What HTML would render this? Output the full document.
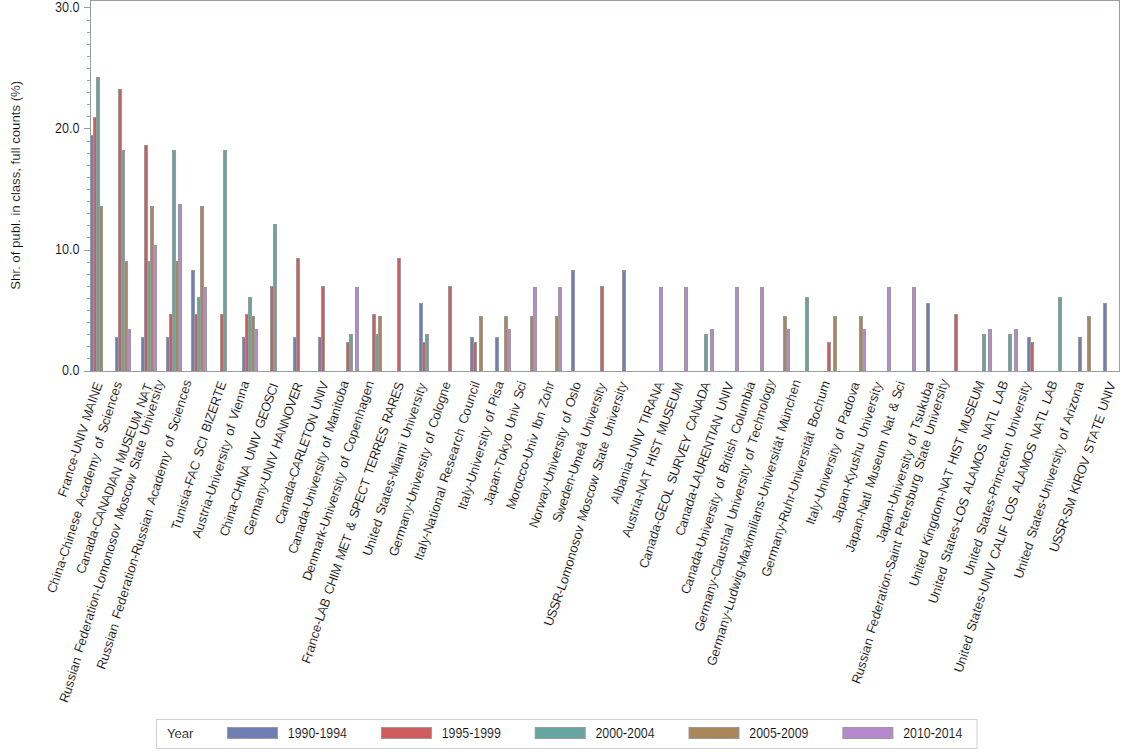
<!DOCTYPE html>
<html><head><meta charset="utf-8"><style>
html,body{margin:0;padding:0;background:#fff;}
body{width:1134px;height:756px;overflow:hidden;}
svg{display:block;font-family:"Liberation Sans",sans-serif;}
text{stroke:#fff;stroke-width:0.15px}
</style></head><body>
<svg width="1134" height="756" viewBox="0 0 1134 756">
<rect width="1134" height="756" fill="#fff"/>
<g stroke="#9a9a9a" stroke-width="1"><rect x="90.5" y="135.5" width="3" height="236" fill="#6F7EB3"/><rect x="93.5" y="117.5" width="3" height="254" fill="#D05B5B"/><rect x="96.5" y="77.5" width="3" height="294" fill="#66A5A0"/><rect x="99.5" y="206.5" width="3" height="165" fill="#A9865B"/><rect x="115.5" y="337.5" width="3" height="34" fill="#6F7EB3"/><rect x="118.5" y="89.5" width="3" height="282" fill="#D05B5B"/><rect x="121.5" y="150.5" width="3" height="221" fill="#66A5A0"/><rect x="124.5" y="261.5" width="3" height="110" fill="#A9865B"/><rect x="127.5" y="329.5" width="3" height="42" fill="#B689CD"/><rect x="141.5" y="337.5" width="3" height="34" fill="#6F7EB3"/><rect x="144.5" y="145.5" width="3" height="226" fill="#D05B5B"/><rect x="147.5" y="261.5" width="3" height="110" fill="#66A5A0"/><rect x="150.5" y="206.5" width="3" height="165" fill="#A9865B"/><rect x="153.5" y="245.5" width="3" height="126" fill="#B689CD"/><rect x="166.5" y="337.5" width="3" height="34" fill="#6F7EB3"/><rect x="169.5" y="314.5" width="3" height="57" fill="#D05B5B"/><rect x="172.5" y="150.5" width="3" height="221" fill="#66A5A0"/><rect x="175.5" y="261.5" width="3" height="110" fill="#A9865B"/><rect x="178.5" y="204.5" width="3" height="167" fill="#B689CD"/><rect x="191.5" y="270.5" width="3" height="101" fill="#6F7EB3"/><rect x="194.5" y="314.5" width="3" height="57" fill="#D05B5B"/><rect x="197.5" y="297.5" width="3" height="74" fill="#66A5A0"/><rect x="200.5" y="206.5" width="3" height="165" fill="#A9865B"/><rect x="203.5" y="287.5" width="3" height="84" fill="#B689CD"/><rect x="220.5" y="314.5" width="3" height="57" fill="#D05B5B"/><rect x="223.5" y="150.5" width="3" height="221" fill="#66A5A0"/><rect x="242.5" y="337.5" width="3" height="34" fill="#6F7EB3"/><rect x="245.5" y="314.5" width="3" height="57" fill="#D05B5B"/><rect x="248.5" y="297.5" width="3" height="74" fill="#66A5A0"/><rect x="251.5" y="316.5" width="3" height="55" fill="#A9865B"/><rect x="254.5" y="329.5" width="3" height="42" fill="#B689CD"/><rect x="270.5" y="286.5" width="3" height="85" fill="#D05B5B"/><rect x="273.5" y="224.5" width="3" height="147" fill="#66A5A0"/><rect x="293.5" y="337.5" width="3" height="34" fill="#6F7EB3"/><rect x="296.5" y="258.5" width="3" height="113" fill="#D05B5B"/><rect x="318.5" y="337.5" width="3" height="34" fill="#6F7EB3"/><rect x="321.5" y="286.5" width="3" height="85" fill="#D05B5B"/><rect x="346.5" y="342.5" width="3" height="29" fill="#D05B5B"/><rect x="349.5" y="334.5" width="3" height="37" fill="#66A5A0"/><rect x="355.5" y="287.5" width="3" height="84" fill="#B689CD"/><rect x="372.5" y="314.5" width="3" height="57" fill="#D05B5B"/><rect x="375.5" y="334.5" width="3" height="37" fill="#66A5A0"/><rect x="378.5" y="316.5" width="3" height="55" fill="#A9865B"/><rect x="397.5" y="258.5" width="3" height="113" fill="#D05B5B"/><rect x="419.5" y="303.5" width="3" height="68" fill="#6F7EB3"/><rect x="422.5" y="342.5" width="3" height="29" fill="#D05B5B"/><rect x="425.5" y="334.5" width="3" height="37" fill="#66A5A0"/><rect x="448.5" y="286.5" width="3" height="85" fill="#D05B5B"/><rect x="470.5" y="337.5" width="3" height="34" fill="#6F7EB3"/><rect x="473.5" y="342.5" width="3" height="29" fill="#D05B5B"/><rect x="479.5" y="316.5" width="3" height="55" fill="#A9865B"/><rect x="495.5" y="337.5" width="3" height="34" fill="#6F7EB3"/><rect x="504.5" y="316.5" width="3" height="55" fill="#A9865B"/><rect x="507.5" y="329.5" width="3" height="42" fill="#B689CD"/><rect x="530.5" y="316.5" width="3" height="55" fill="#A9865B"/><rect x="533.5" y="287.5" width="3" height="84" fill="#B689CD"/><rect x="555.5" y="316.5" width="3" height="55" fill="#A9865B"/><rect x="558.5" y="287.5" width="3" height="84" fill="#B689CD"/><rect x="571.5" y="270.5" width="3" height="101" fill="#6F7EB3"/><rect x="600.5" y="286.5" width="3" height="85" fill="#D05B5B"/><rect x="622.5" y="270.5" width="3" height="101" fill="#6F7EB3"/><rect x="659.5" y="287.5" width="3" height="84" fill="#B689CD"/><rect x="684.5" y="287.5" width="3" height="84" fill="#B689CD"/><rect x="704.5" y="334.5" width="3" height="37" fill="#66A5A0"/><rect x="710.5" y="329.5" width="3" height="42" fill="#B689CD"/><rect x="735.5" y="287.5" width="3" height="84" fill="#B689CD"/><rect x="760.5" y="287.5" width="3" height="84" fill="#B689CD"/><rect x="783.5" y="316.5" width="3" height="55" fill="#A9865B"/><rect x="786.5" y="329.5" width="3" height="42" fill="#B689CD"/><rect x="805.5" y="297.5" width="3" height="74" fill="#66A5A0"/><rect x="827.5" y="342.5" width="3" height="29" fill="#D05B5B"/><rect x="833.5" y="316.5" width="3" height="55" fill="#A9865B"/><rect x="859.5" y="316.5" width="3" height="55" fill="#A9865B"/><rect x="862.5" y="329.5" width="3" height="42" fill="#B689CD"/><rect x="887.5" y="287.5" width="3" height="84" fill="#B689CD"/><rect x="912.5" y="287.5" width="3" height="84" fill="#B689CD"/><rect x="926.5" y="303.5" width="3" height="68" fill="#6F7EB3"/><rect x="954.5" y="314.5" width="3" height="57" fill="#D05B5B"/><rect x="982.5" y="334.5" width="3" height="37" fill="#66A5A0"/><rect x="988.5" y="329.5" width="3" height="42" fill="#B689CD"/><rect x="1008.5" y="334.5" width="3" height="37" fill="#66A5A0"/><rect x="1014.5" y="329.5" width="3" height="42" fill="#B689CD"/><rect x="1027.5" y="337.5" width="3" height="34" fill="#6F7EB3"/><rect x="1030.5" y="342.5" width="3" height="29" fill="#D05B5B"/><rect x="1058.5" y="297.5" width="3" height="74" fill="#66A5A0"/><rect x="1078.5" y="337.5" width="3" height="34" fill="#6F7EB3"/><rect x="1087.5" y="316.5" width="3" height="55" fill="#A9865B"/><rect x="1103.5" y="303.5" width="3" height="68" fill="#6F7EB3"/></g>
<rect x="90.5" y="0.5" width="1029" height="371" fill="none" stroke="#989EA1"/>
<g stroke="#989EA1" stroke-width="1"><line x1="84" y1="7.5" x2="90" y2="7.5"/><line x1="87" y1="20.5" x2="90" y2="20.5"/><line x1="87" y1="32.5" x2="90" y2="32.5"/><line x1="87" y1="44.5" x2="90" y2="44.5"/><line x1="87" y1="56.5" x2="90" y2="56.5"/><line x1="87" y1="68.5" x2="90" y2="68.5"/><line x1="87" y1="80.5" x2="90" y2="80.5"/><line x1="87" y1="92.5" x2="90" y2="92.5"/><line x1="87" y1="104.5" x2="90" y2="104.5"/><line x1="87" y1="116.5" x2="90" y2="116.5"/><line x1="84" y1="128.5" x2="90" y2="128.5"/><line x1="87" y1="141.5" x2="90" y2="141.5"/><line x1="87" y1="153.5" x2="90" y2="153.5"/><line x1="87" y1="165.5" x2="90" y2="165.5"/><line x1="87" y1="177.5" x2="90" y2="177.5"/><line x1="87" y1="189.5" x2="90" y2="189.5"/><line x1="87" y1="201.5" x2="90" y2="201.5"/><line x1="87" y1="213.5" x2="90" y2="213.5"/><line x1="87" y1="225.5" x2="90" y2="225.5"/><line x1="87" y1="237.5" x2="90" y2="237.5"/><line x1="84" y1="250.5" x2="90" y2="250.5"/><line x1="87" y1="262.5" x2="90" y2="262.5"/><line x1="87" y1="274.5" x2="90" y2="274.5"/><line x1="87" y1="286.5" x2="90" y2="286.5"/><line x1="87" y1="298.5" x2="90" y2="298.5"/><line x1="87" y1="310.5" x2="90" y2="310.5"/><line x1="87" y1="322.5" x2="90" y2="322.5"/><line x1="87" y1="334.5" x2="90" y2="334.5"/><line x1="87" y1="346.5" x2="90" y2="346.5"/><line x1="87" y1="358.5" x2="90" y2="358.5"/><line x1="84" y1="371.5" x2="90" y2="371.5"/></g>
<g font-size="12px" fill="#000"><text transform="translate(79.6,7.1) scale(1.05,1.18)" dy="0.35em" text-anchor="end">30.0</text><text transform="translate(79.6,128.1) scale(1.05,1.18)" dy="0.35em" text-anchor="end">20.0</text><text transform="translate(79.6,249.0) scale(1.05,1.18)" dy="0.35em" text-anchor="end">10.0</text><text transform="translate(79.6,370.2) scale(1.05,1.18)" dy="0.35em" text-anchor="end">0.0</text></g>
<text transform="translate(19.5,185.3) scale(1.07,1.1) rotate(-90)" text-anchor="middle" font-size="12px" fill="#000">Shr. of publ. in class, full counts (%)</text>
<rect x="156.5" y="719.5" width="820.5" height="29" fill="none" stroke="#d0d0d0"/>
<text transform="translate(167,737.9)" font-size="13px" fill="#000">Year</text>
<g font-size="12px" fill="#000"><rect x="227.5" y="727.5" width="50" height="11" fill="#6F7EB3" stroke="#9a9a9a"/><text transform="translate(287.8,738.0) scale(1.03,1.18)">1990-1994</text><rect x="381.4" y="727.5" width="50" height="11" fill="#D05B5B" stroke="#9a9a9a"/><text transform="translate(441.7,738.0) scale(1.03,1.18)">1995-1999</text><rect x="535.2" y="727.5" width="50" height="11" fill="#66A5A0" stroke="#9a9a9a"/><text transform="translate(595.5,738.0) scale(1.03,1.18)">2000-2004</text><rect x="689.0" y="727.5" width="50" height="11" fill="#A9865B" stroke="#9a9a9a"/><text transform="translate(749.3,738.0) scale(1.03,1.18)">2005-2009</text><rect x="842.9" y="727.5" width="50" height="11" fill="#B689CD" stroke="#9a9a9a"/><text transform="translate(903.2,738.0) scale(1.03,1.18)">2010-2014</text></g>
<g id="xl" font-size="13.0px" fill="#000"><text x="65.85 68.33 69.57 71.63 73.68 75.54 77.60 78.90 81.84 84.78 85.91 88.62 89.69 93.08 95.79 96.92 99.86" y="498.05 490.87 486.59 479.45 472.31 465.88 458.74 454.98 446.50 438.01 434.75 426.92 421.69 411.91 404.07 400.81 392.33" rotate="-69.50">France-UNIV MAINE</text><text x="54.94 58.09 60.31 61.20 63.42 65.64 67.04 70.19 72.41 73.30 75.52 77.74 79.74 81.96 83.11 86.01 88.01 90.23 92.45 94.68 98.00 100.00 101.15 103.37 104.48 105.63 108.54 110.53 111.42 113.64 115.86 117.86 120.08" y="593.99 585.62 578.56 575.74 568.68 561.63 557.92 549.54 542.49 539.67 532.61 525.55 519.20 512.14 506.96 499.23 492.88 485.82 478.76 471.70 461.13 454.78 449.60 442.54 439.02 433.83 426.10 419.75 416.93 409.87 402.82 396.47 389.41" rotate="-69.50">China-Chinese Academy of Sciences</text><text x="84.01 87.17 89.41 91.64 93.87 96.11 98.34 99.74 102.91 105.83 108.99 111.92 115.08 116.30 119.22 122.38 123.53 127.18 130.35 133.27 136.19 139.35 143.00 144.16 147.32 150.24" y="574.67 566.45 559.51 552.57 545.63 538.69 531.76 528.12 519.90 512.31 504.10 496.51 488.29 485.13 477.54 469.32 464.20 454.72 446.50 438.91 431.32 423.11 413.63 408.50 400.29 392.70" rotate="-69.50">Canada-CANADIAN MUSEUM NAT</text><text x="67.20 70.17 72.25 74.12 75.99 76.82 78.90 80.98 82.05 84.56 86.64 88.72 90.80 92.04 94.12 95.16 95.99 98.07 100.15 101.47 103.75 105.83 108.95 111.03 113.11 115.19 117.06 119.13 121.00 122.08 125.50 127.58 129.45 131.32 133.40 136.10 137.18 139.92 140.95 143.03 144.07 146.15 147.23 150.19 152.27 153.10 154.97 157.05 158.30 160.17 161.00 162.04" y="703.46 695.15 688.15 681.84 675.54 672.74 665.74 658.73 653.57 646.54 639.53 632.52 625.51 621.32 614.31 610.81 608.01 601.00 593.99 590.31 583.91 576.91 566.41 559.40 552.39 545.38 539.08 532.07 525.77 520.61 511.03 504.02 497.72 491.42 484.41 475.31 470.15 462.48 458.98 451.97 448.47 441.46 436.30 427.99 420.98 418.18 411.88 404.87 400.68 394.38 391.58 388.07" rotate="-69.50">Russian Federation-Lomonosov Moscow State University</text><text x="104.56 107.57 109.68 111.58 113.48 114.32 116.44 118.55 119.64 122.19 124.30 126.41 128.52 129.79 131.90 132.95 133.80 135.91 138.02 139.36 142.36 144.47 146.37 148.27 149.12 151.23 153.34 154.43 157.21 159.11 161.22 163.33 165.45 168.61 170.51 171.60 173.71 174.77 175.86 178.64 180.54 181.38 183.49 185.60 187.50 189.62" y="670.26 661.86 654.78 648.42 642.05 639.22 632.14 625.06 619.86 612.76 605.67 598.59 591.51 587.27 580.19 576.65 573.82 566.74 559.66 555.94 547.54 540.46 534.09 527.72 524.89 517.81 510.73 505.54 497.78 491.41 484.33 477.25 470.17 459.56 453.19 448.00 440.92 437.38 432.19 424.43 418.06 415.23 408.15 401.07 394.70 387.62" rotate="-69.50">Russian Federation-Russian Academy of Sciences</text><text x="179.20 181.65 183.68 185.71 186.52 188.34 189.15 191.18 192.46 194.91 197.58 200.48 201.53 204.20 207.10 208.21 209.26 211.94 213.05 215.50 218.18 221.07 223.52" y="531.10 523.92 516.78 509.63 506.78 500.35 497.49 490.35 486.59 479.41 471.57 463.08 457.86 450.02 441.53 438.27 433.04 425.20 421.94 414.76 406.92 398.43 391.25" rotate="-69.50">Tunisia-FAC SCI BIZERTE</text><text x="200.01 202.86 205.04 207.00 208.08 209.39 210.26 212.43 213.81 216.90 219.07 219.94 221.90 224.08 225.38 227.34 228.21 229.30 231.25 232.38 234.55 235.64 236.77 239.62 240.49 242.67 244.85 247.02" y="538.83 531.14 524.11 517.79 514.28 510.08 507.27 500.24 496.55 488.22 481.19 478.39 472.07 465.04 460.84 454.52 451.71 448.20 441.88 436.72 429.69 426.18 421.01 413.32 410.51 403.48 396.46 389.43" rotate="-69.50">Austria-University of Vienna</text><text x="227.47 230.38 232.41 233.23 235.26 237.29 238.58 241.49 244.39 245.51 248.42 251.10 252.15 255.06 257.96 259.08 261.77 262.82 265.95 268.63 271.76 274.45 277.35" y="537.31 529.13 522.22 519.46 512.54 505.63 502.01 493.83 485.65 482.50 474.32 466.76 461.65 453.46 445.28 442.13 434.58 429.47 420.65 413.10 404.28 396.73 388.54" rotate="-69.50">China-CHINA UNIV GEOSCI</text><text x="251.43 254.65 256.74 257.99 261.13 263.22 265.31 267.19 268.52 271.50 274.48 275.63 278.38 279.47 282.45 285.20 288.18 291.17 294.38 297.13 299.89" y="536.60 527.69 520.71 516.53 506.07 499.08 492.10 485.82 482.16 473.88 465.61 462.43 454.78 449.64 441.36 433.72 425.45 417.17 408.26 400.62 392.98" rotate="-69.50">Germany-UNIV HANNOVER</text><text x="283.02 285.82 287.78 289.74 291.69 293.65 295.60 296.85 299.65 302.24 305.04 307.20 309.79 312.16 315.18 317.99 319.00 321.81 324.61 325.69" y="525.14 516.89 509.92 502.96 495.99 489.03 482.06 478.41 470.16 462.54 454.29 447.94 440.32 433.34 424.45 416.20 411.06 402.81 394.56 391.39" rotate="-69.50">Canada-CARLETON UNIV</text><text x="296.02 299.00 301.09 303.18 305.27 307.36 309.45 310.77 313.75 315.84 316.68 318.56 320.65 321.90 323.78 324.61 325.66 327.54 328.62 330.71 331.76 332.84 336.27 338.36 340.46 341.29 342.34 344.43 346.52" y="554.77 546.51 539.54 532.57 525.59 518.62 511.65 507.99 499.74 492.76 489.98 483.71 476.74 472.57 466.30 463.51 460.03 453.76 448.62 441.65 438.17 433.03 423.50 416.53 409.56 406.77 403.29 396.32 389.35" rotate="-69.50">Canada-University of Manitoba</text><text x="310.15 313.28 315.48 317.68 320.97 323.17 324.49 326.47 327.86 330.98 333.18 334.06 336.03 338.23 339.55 341.53 342.41 343.51 345.49 346.62 348.82 349.92 351.06 354.18 356.38 358.58 360.78 362.98 365.18 367.38 369.59 371.79" y="581.61 573.37 566.42 559.47 549.05 542.10 537.93 531.68 528.04 519.80 512.85 510.07 503.82 496.87 492.70 486.45 483.67 480.20 473.95 468.82 461.87 458.39 453.26 445.03 438.07 431.12 424.17 417.21 410.26 403.31 396.35 389.40" rotate="-69.50">Denmark-University of Copenhagen</text><text x="309.45 311.99 313.25 315.35 317.46 319.35 321.46 322.79 325.09 327.86 330.63 331.72 334.72 337.71 338.86 342.32 343.41 346.87 349.64 352.17 353.26 355.92 357.01 359.78 362.55 365.32 368.31 370.85 371.94 374.47 377.24 380.24 383.24 386.00 388.77 389.86 392.86 395.63 398.62 401.39" y="664.45 657.44 653.25 646.26 639.26 632.97 625.98 622.31 615.92 608.27 600.61 595.46 587.17 578.88 575.69 566.13 560.98 551.42 543.77 536.75 531.60 524.25 519.10 511.45 503.79 496.13 487.85 480.83 475.68 468.67 461.02 452.73 444.44 436.78 429.13 423.98 415.69 408.03 399.74 392.09" rotate="-69.50">France-LAB CHIM MET &amp; SPECT TERRES RARES</text><text x="370.63 373.77 375.98 376.87 377.97 380.19 382.40 383.55 386.45 387.55 389.77 390.87 393.09 395.08 396.47 400.10 400.98 403.20 406.51 407.40 408.54 411.68 413.90 414.78 416.77 418.99 420.31 422.30 423.19 424.29" y="556.70 548.39 541.37 538.57 535.07 528.06 521.04 515.88 508.20 504.70 497.69 494.18 487.17 480.86 477.18 467.59 464.79 457.78 447.27 444.47 439.31 431.00 423.98 421.18 414.88 407.86 403.66 397.36 394.55 391.05" rotate="-69.50">United States-Miami University</text><text x="396.71 399.94 402.04 403.30 406.46 408.56 410.67 412.56 413.90 416.89 419.00 419.84 421.74 423.84 425.10 427.00 427.84 428.89 430.78 431.87 433.98 435.03 436.12 439.12 441.23 442.07 444.18 446.28 448.39" y="557.32 548.49 541.57 537.43 527.06 520.13 513.21 506.99 503.36 495.16 488.24 485.47 479.25 472.33 468.18 461.96 459.19 455.73 449.51 444.39 437.47 434.01 428.90 420.70 413.78 411.01 404.09 397.17 390.24" rotate="-69.50">Germany-University of Cologne</text><text x="421.95 423.18 424.31 426.57 427.47 429.51 430.93 434.14 436.40 437.53 438.43 440.70 442.96 445.22 446.13 447.30 450.50 452.76 454.80 457.06 459.32 460.68 462.71 464.97 466.14 469.34 471.61 473.87 476.13 478.17 479.07" y="561.22 558.00 554.47 547.40 544.58 538.23 534.52 526.14 519.07 515.54 512.72 505.65 498.59 491.52 488.70 483.51 475.13 468.07 461.72 454.65 447.58 443.35 437.00 429.94 424.75 416.37 409.30 402.24 395.17 388.82 386.00" rotate="-69.50">Italy-National Research Council</text><text x="465.70 466.85 467.89 469.98 470.82 472.69 474.01 476.99 479.08 479.91 481.79 483.88 485.13 487.01 487.84 488.89 490.77 491.85 493.94 494.98 496.06 498.81 499.64 501.52" y="510.75 507.49 503.92 496.77 493.91 487.49 483.73 475.24 468.09 465.24 458.81 451.66 447.38 440.96 438.10 434.53 428.11 422.88 415.73 412.16 406.93 399.09 396.24 389.81" rotate="-69.50">Italy-University of Pisa</text><text x="491.58 493.50 495.42 497.35 499.27 501.20 502.42 504.76 506.68 508.41 510.14 512.07 513.07 515.83 517.75 518.52 520.25 521.25 523.80 525.53" y="505.94 500.17 493.14 486.12 479.09 472.06 468.37 461.32 454.30 447.98 441.66 434.63 429.46 421.13 414.11 411.30 404.98 399.81 392.12 385.80" rotate="-69.50">Japan-Tokyo Univ Sci</text><text x="514.01 517.54 519.69 520.98 523.13 525.06 527.00 529.15 530.51 533.56 535.72 536.57 538.51 539.62 540.80 542.95 545.10 546.21 548.80 550.95 553.10" y="510.23 500.74 493.80 489.64 482.69 476.45 470.21 463.26 459.62 451.40 444.45 441.68 435.44 430.31 427.14 420.20 413.26 408.13 401.17 394.23 387.28" rotate="-69.50">Morocco-Univ Ibn Zohr</text><text x="537.05 539.99 542.05 543.28 545.95 548.01 549.86 551.17 554.10 556.16 556.98 558.84 560.89 562.13 563.98 564.80 565.83 567.68 568.75 570.81 571.84 572.90 576.07 577.92 578.74" y="528.69 520.43 513.46 509.29 500.24 493.27 487.01 483.35 475.10 468.13 465.34 459.08 452.11 447.94 441.67 438.89 435.41 429.14 424.00 417.03 413.55 408.41 399.52 393.26 390.47" rotate="-69.50">Norway-University of Oslo</text><text x="560.34 563.22 566.08 568.28 570.49 572.69 574.89 576.28 579.40 582.69 584.90 587.10 588.24 591.36 593.56 594.44 596.42 598.62 599.94 601.92 602.79 603.89" y="523.06 515.55 506.62 499.75 492.87 486.00 479.12 475.53 467.39 457.10 450.22 443.35 438.25 430.12 423.25 420.50 414.32 407.44 403.33 397.15 394.40 390.96" rotate="-69.50">Sweden-Umeå University</text><text x="551.82 554.78 557.51 560.24 563.20 564.51 566.79 568.86 571.97 574.04 576.12 578.19 580.06 582.13 584.00 585.07 588.49 590.56 592.43 594.29 596.37 599.06 600.13 602.87 603.90 605.98 607.01 609.09 610.16 613.12 615.19 616.02 617.89 619.96 621.21 623.07 623.90 624.94" y="627.04 618.76 611.10 603.45 595.16 591.49 585.11 578.12 567.64 560.65 553.65 546.66 540.37 533.38 527.09 521.94 512.38 505.39 499.10 492.81 485.82 476.74 471.58 463.93 460.44 453.44 449.95 442.95 437.80 429.52 422.52 419.73 413.44 406.45 402.26 395.97 393.18 389.68" rotate="-69.50">USSR-Lomonosov Moscow State University</text><text x="618.34 621.48 622.45 624.86 627.27 629.69 630.65 633.07 634.58 637.98 641.38 642.69 645.83 647.07 649.95 651.26 654.66 657.79 661.19" y="504.39 496.67 493.85 486.80 479.75 472.69 469.88 462.82 459.12 450.76 442.39 439.17 431.45 426.27 419.20 415.98 407.61 399.89 391.53" rotate="-69.50">Albania-UNIV TIRANA</text><text x="629.85 632.72 634.92 636.89 637.99 639.30 640.18 642.38 643.76 646.88 649.75 652.39 653.52 656.64 657.84 660.71 663.35 664.48 668.08 671.19 674.07 676.95 680.06" y="538.07 530.36 523.32 516.99 513.47 509.26 506.44 499.40 495.71 487.36 479.65 472.59 467.42 459.07 455.86 448.15 441.09 435.91 426.28 417.94 410.23 402.52 394.17" rotate="-69.50">Austria-NAT HIST MUSEUM</text><text x="647.01 650.04 652.17 654.30 656.43 658.56 660.69 662.04 665.30 668.10 671.36 673.70 674.80 677.60 680.63 683.66 686.46 689.26 692.06 693.16 696.19 698.99 702.02 704.82 707.85" y="569.25 560.91 553.88 546.84 539.81 532.77 525.73 522.04 513.06 505.35 496.37 489.94 484.77 477.07 468.72 460.38 452.68 444.97 437.27 432.10 423.76 416.05 407.71 400.00 391.66" rotate="-69.50">Canada-GEOL SURVEY CANADA</text><text x="683.15 686.05 688.08 690.11 692.14 694.17 696.20 697.48 699.72 702.40 705.30 708.20 710.88 713.78 716.23 717.34 720.02 722.92 723.98 726.88 729.78 730.89" y="536.81 528.52 521.52 514.52 507.52 500.52 493.52 489.85 483.46 475.80 467.50 459.21 451.55 443.25 436.24 433.05 425.39 417.09 411.94 403.64 395.35 392.16" rotate="-69.50">Canada-LAURENTIAN UNIV</text><text x="688.71 691.76 693.91 696.06 698.21 700.36 702.50 703.86 706.91 709.06 709.92 711.85 714.00 715.29 717.22 718.08 719.15 721.08 722.19 724.34 725.41 726.53 729.35 730.63 731.49 732.56 733.42 735.35 737.50 738.61 741.67 743.82 744.67 746.82 750.04 752.19 753.05" y="595.07 586.87 579.94 573.01 566.08 559.15 552.22 548.59 540.39 533.46 530.69 524.46 517.53 513.38 507.15 504.38 500.92 494.69 489.57 482.64 479.18 474.06 466.48 462.33 459.56 456.10 453.33 447.10 440.17 435.05 426.85 419.92 417.15 410.22 399.84 392.91 390.14" rotate="-69.50">Canada-University of British Columbia</text><text x="702.15 705.22 707.21 708.41 711.39 713.38 715.37 717.16 718.43 721.28 722.07 724.06 726.06 727.85 728.84 730.83 732.82 733.62 734.65 737.50 739.49 740.29 742.08 744.07 745.27 747.06 747.85 748.85 750.64 751.67 753.66 754.66 755.69 758.10 760.09 761.88 763.87 765.87 767.86 768.65 770.64 772.64" y="632.45 623.50 616.48 612.29 601.78 594.77 587.75 581.45 577.77 569.46 566.65 559.64 552.63 546.32 542.82 535.81 528.79 525.99 520.83 512.52 505.50 502.70 496.40 489.38 485.19 478.88 476.08 472.58 466.27 461.11 454.10 450.59 445.43 438.40 431.39 425.08 418.07 411.06 404.04 401.24 394.23 387.21" rotate="-69.50">Germany-Clausthal University of Technology</text><text x="714.81 717.98 720.05 721.29 724.39 726.45 728.52 730.38 731.69 733.96 736.03 738.10 740.78 741.61 743.67 744.98 748.38 750.45 752.31 753.14 756.23 757.06 757.89 758.71 760.78 762.85 764.71 766.01 768.96 771.03 771.86 773.72 775.78 777.02 778.88 779.71 780.74 782.81 783.84 784.91 788.31 790.38 792.45 794.31 796.37 798.44" y="666.72 657.61 650.49 646.23 635.56 628.44 621.32 614.91 611.17 604.66 597.54 590.41 581.17 578.32 571.20 567.45 557.70 550.58 544.18 541.33 530.67 527.82 524.98 522.13 515.01 507.89 501.49 497.74 489.29 482.16 479.32 472.92 465.79 461.53 455.13 452.28 448.73 441.60 438.05 432.83 423.08 415.96 408.84 402.43 395.31 388.19" rotate="-69.50">Germany-Ludwig-Maximilians-Universität München</text><text x="769.23 772.46 774.57 775.84 778.99 781.10 783.21 785.11 786.44 789.45 791.56 793.66 794.93 796.26 799.26 801.37 802.22 804.11 806.22 807.48 809.38 810.22 811.28 813.39 814.44 815.53 818.31 820.42 822.31 824.42 826.53" y="577.82 568.81 561.75 557.53 546.96 539.90 532.84 526.50 522.79 514.42 507.36 500.31 496.08 492.37 484.00 476.95 474.13 467.78 460.73 456.50 450.16 447.34 443.81 436.75 433.23 428.05 420.32 413.26 406.91 399.86 392.80" rotate="-69.50">Germany-Ruhr-Universität Bochum</text><text x="813.84 815.04 816.15 818.35 819.24 821.22 822.61 825.74 827.95 828.83 830.82 833.02 834.35 836.33 837.21 838.32 840.30 841.44 843.65 844.75 845.89 848.78 850.99 853.20 855.41 857.39" y="525.55 522.40 518.95 512.04 509.28 503.07 499.45 491.27 484.36 481.60 475.39 468.48 464.34 458.13 455.36 451.91 445.70 440.59 433.68 430.23 425.12 417.56 410.65 403.74 396.83 390.62" rotate="-69.50">Italy-University of Padova</text><text x="839.83 841.89 843.98 846.06 848.15 850.23 851.55 854.29 856.17 858.25 860.13 862.21 864.30 865.38 868.35 870.44 871.27 873.14 875.23 876.48 878.35 879.18 880.23" y="523.43 517.62 510.54 503.47 496.40 489.32 485.61 477.86 471.50 464.43 458.07 451.00 443.92 438.73 430.34 423.27 420.44 414.08 407.01 402.78 396.42 393.59 390.06" rotate="-69.50">Japan-Kyushu University</text><text x="853.27 855.33 857.41 859.50 861.58 863.67 864.98 867.95 870.04 871.08 871.91 872.99 876.42 878.50 880.37 882.46 884.54 887.66 888.74 891.71 893.80 894.84 895.92 898.56 899.64 902.38 904.25" y="553.02 547.28 540.27 533.27 526.26 519.26 515.58 507.28 500.28 496.78 493.98 488.82 479.25 472.24 465.94 458.94 451.94 441.44 436.29 427.99 420.98 417.48 412.33 404.96 399.81 392.14 385.84" rotate="-69.50">Japan-Natl Museum Nat &amp; Sci</text><text x="883.79 885.91 888.06 890.21 892.36 894.51 895.87 898.92 901.07 901.93 903.86 906.02 907.30 909.24 910.10 911.17 913.10 914.22 916.37 917.44 918.55 921.14 923.07 925.22 927.16 929.31 931.46" y="543.08 537.35 530.37 523.38 516.40 509.42 505.75 497.48 490.50 487.71 481.43 474.44 470.26 463.98 461.20 457.71 451.43 446.28 439.30 435.81 430.66 423.67 417.39 410.40 404.13 397.14 390.16" rotate="-69.50">Japan-University of Tsukuba</text><text x="859.60 862.51 864.55 866.38 868.22 869.03 871.07 873.11 874.17 876.63 878.67 880.71 882.75 883.97 886.01 887.03 887.84 889.88 891.92 893.21 895.90 897.94 898.75 900.79 901.81 902.87 905.56 907.60 908.62 910.65 911.88 913.71 915.75 917.79 919.01 921.05 922.10 924.79 925.81 927.85 928.87 930.91 931.97 934.88 936.92 937.73 939.56 941.60 942.82 944.66 945.47 946.49" y="684.67 676.27 669.19 662.82 656.46 653.63 646.55 639.47 634.28 627.18 620.10 613.02 605.94 601.70 594.62 591.08 588.26 581.18 574.10 570.38 562.62 555.54 552.72 545.64 542.10 536.91 529.15 522.07 518.53 511.46 507.22 500.85 493.77 486.69 482.46 475.38 470.18 462.43 458.89 451.81 448.27 441.19 436.00 427.60 420.52 417.70 411.33 404.25 400.01 393.65 390.82 387.29" rotate="-69.50">Russian Federation-Saint Petersburg State University</text><text x="917.04 920.05 922.17 923.01 924.07 926.19 928.30 929.40 932.18 933.03 935.14 937.26 939.37 941.49 944.66 946.00 949.01 951.79 954.34 955.43 958.45 959.60 962.39 964.93 966.03 969.50 972.51 975.30 978.08 981.09" y="587.35 579.05 572.05 569.26 565.76 558.76 551.76 546.61 538.95 536.15 529.15 522.15 515.15 508.16 497.67 494.00 485.71 478.04 471.03 465.87 457.58 454.39 446.73 439.71 434.56 424.99 416.70 409.04 401.37 393.08" rotate="-69.50">United Kingdom-NAT HIST MUSEUM</text><text x="936.25 939.25 941.36 942.20 943.25 945.36 947.47 948.56 951.33 952.39 954.49 955.55 957.66 959.55 960.88 963.20 966.43 969.20 970.29 973.07 975.38 978.15 981.61 984.85 987.62 988.71 991.71 994.48 997.02 999.33 1000.43 1002.74 1005.51" y="604.55 596.06 588.91 586.05 582.48 575.33 568.18 562.95 555.11 551.53 544.38 540.81 533.66 527.23 523.47 516.93 507.78 499.94 494.71 486.87 480.33 472.48 462.69 453.54 445.70 440.47 431.98 424.14 416.95 410.41 405.18 398.64 390.80" rotate="-69.50">United States-LOS ALAMOS NATL LAB</text><text x="971.62 974.62 976.73 977.57 978.62 980.73 982.84 983.93 986.70 987.76 989.86 990.92 993.03 994.92 996.25 999.03 1000.29 1001.13 1003.24 1005.13 1007.24 1008.30 1010.40 1012.51 1013.60 1016.60 1018.71 1019.56 1021.45 1023.56 1024.82 1026.72 1027.56 1028.61" y="576.82 568.43 561.35 558.53 554.99 547.92 540.84 535.65 527.90 524.37 517.29 513.76 506.69 500.33 496.61 488.86 484.62 481.80 474.72 468.36 461.29 457.76 450.68 443.61 438.42 430.03 422.95 420.13 413.77 406.69 402.46 396.10 393.27 389.74" rotate="-69.50">United States-Princeton University</text><text x="961.88 964.87 966.97 967.81 968.86 970.96 973.06 974.15 976.91 977.96 980.06 981.11 983.21 985.10 986.43 989.42 992.41 993.56 996.32 997.41 1000.40 1003.16 1005.47 1006.62 1009.15 1010.24 1012.54 1015.76 1018.52 1019.61 1022.38 1024.68 1027.44 1030.89 1034.11 1036.88 1037.96 1040.96 1043.72 1046.25 1048.55 1049.64 1051.94 1054.71" y="673.42 665.02 657.94 655.11 651.57 644.50 637.42 632.22 624.47 620.93 613.85 610.31 603.24 596.87 593.15 584.75 576.35 573.12 565.37 560.17 551.77 544.02 537.55 534.32 527.22 522.02 515.55 506.51 498.75 493.56 485.80 479.33 471.58 461.89 452.84 445.09 439.89 431.50 423.74 416.63 410.17 404.97 398.51 390.75" rotate="-69.50">United States-UNIV CALIF LOS ALAMOS NATL LAB</text><text x="1021.78 1024.88 1027.06 1027.93 1029.02 1031.20 1033.38 1034.51 1037.37 1038.46 1040.64 1041.73 1043.91 1045.87 1047.25 1050.35 1052.53 1053.40 1055.36 1057.54 1058.85 1060.81 1061.68 1062.77 1064.73 1065.86 1068.04 1069.13 1070.26 1073.12 1074.42 1075.29 1077.25 1079.44 1081.62" y="579.57 571.28 564.29 561.50 558.00 551.01 544.02 538.87 531.21 527.72 520.73 517.24 510.24 503.96 500.29 492.00 485.01 482.22 475.93 468.94 464.75 458.46 455.67 452.18 445.89 440.74 433.75 430.25 425.10 417.45 413.26 410.47 404.18 397.19 390.20" rotate="-69.50">United States-University of Arizona</text><text x="1057.30 1060.29 1063.05 1065.82 1068.81 1070.14 1072.90 1076.35 1077.44 1080.20 1081.35 1084.34 1087.57 1090.33 1091.42 1094.18 1096.71 1099.47 1102.00 1104.77 1105.86 1108.85 1111.84 1112.99" y="552.93 544.64 536.99 529.33 521.04 517.37 509.71 500.15 495.00 487.34 484.15 475.86 466.93 459.27 454.12 446.46 439.45 431.79 424.78 417.12 411.97 403.68 395.39 392.20" rotate="-69.50">USSR-SM KIROV STATE UNIV</text></g>
</svg>
</body></html>
